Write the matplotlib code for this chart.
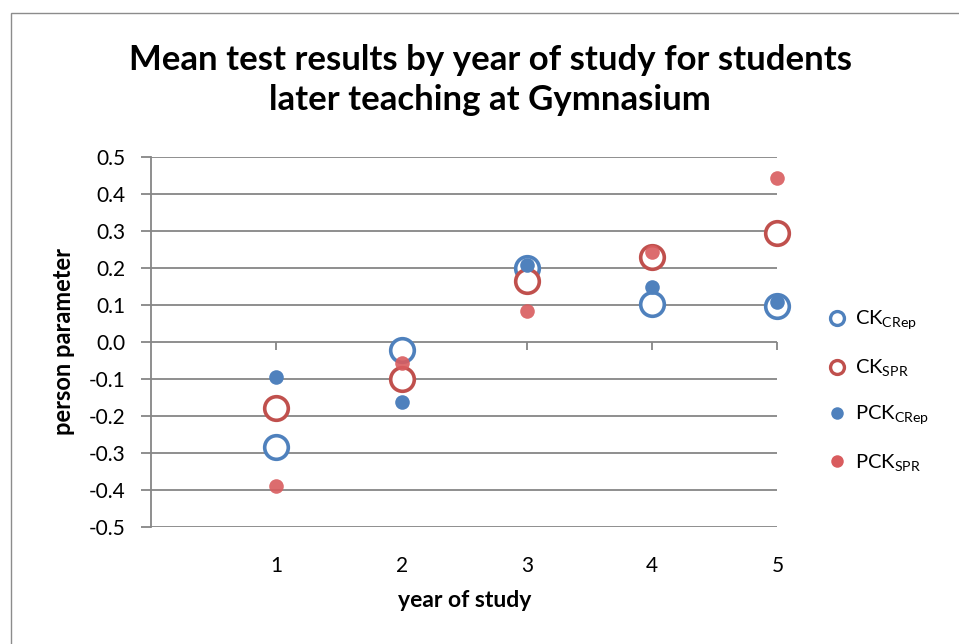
import matplotlib
matplotlib.use("Agg")
from matplotlib import pyplot as plt
from matplotlib.lines import Line2D

plt.rcParams['font.family'] = ['Lato', 'DejaVu Sans']
plt.rcParams['mathtext.fontset'] = 'custom'
plt.rcParams['mathtext.rm'] = 'Lato'

years = [1, 2, 3, 4, 5]
ck_crep = [-0.285, -0.022, 0.200, 0.101, 0.097]
ck_spr = [-0.180, -0.102, 0.165, 0.228, 0.295]
pck_crep = [-0.096, -0.164, 0.207, 0.147, 0.107]
pck_spr = [-0.390, -0.057, 0.083, 0.243, 0.443]

BLUE = '#4F81BD'
RED = '#C0504D'
PINK = '#D95C5E'
GRID = '#868686'

fig = plt.figure(figsize=(9.59, 6.44), dpi=100)
ax = fig.add_axes([0.1575, 0.1822, 0.6532, 0.5745])

# chart frame
fig.add_artist(plt.Rectangle((10.5 / 959, -0.1), 1.2, 1 - 12.5 / 644 + 0.1,
                             transform=fig.transFigure, fill=False,
                             edgecolor='#8C8C8C', linewidth=1.0))

ax.plot(years, ck_crep, ls='none', marker='o', ms=17, mfc='white',
        mec=BLUE, mew=2.6, zorder=3, clip_on=False)
ax.plot(years, ck_spr, ls='none', marker='o', ms=17, mfc='white',
        mec=RED, mew=2.6, zorder=3, clip_on=False)
ax.plot(years, pck_crep, ls='none', marker='o', ms=10.5, mfc=BLUE,
        mec='none', zorder=4, clip_on=False)
ax.plot(years, pck_spr, ls='none', marker='o', ms=10.5, mfc=PINK,
        mec='none', alpha=0.9, zorder=4, clip_on=False)

ax.set_xlim(0, 5)
ax.set_ylim(-0.5, 0.5)
ax.set_yticks([i / 10 for i in range(-5, 6)])
ax.set_yticklabels(['%.1f' % (i / 10) for i in range(-5, 6)])
ax.set_xticks(years)
ax.grid(axis='y', color=GRID, linewidth=1.3)
ax.set_axisbelow(True)

for s in ['top', 'right', 'bottom']:
    ax.spines[s].set_visible(False)
ax.spines['left'].set_color(GRID)
ax.spines['left'].set_linewidth(1.3)
ax.tick_params(axis='y', direction='out', length=7.2, width=1.3, color=GRID,
               labelsize=15, pad=11)
ax.tick_params(axis='x', length=0, labelsize=15, pad=21)

# horizontal axis crossing at zero, tick marks only
zero_ax = ax.secondary_xaxis(0.5)
zero_ax.set_xticks(years)
zero_ax.xaxis.set_ticks_position('bottom')
zero_ax.tick_params(direction='out', length=6, width=1.3, color=GRID,
                    labelbottom=False, labeltop=False)
zero_ax.spines['bottom'].set_color(GRID)
zero_ax.spines['bottom'].set_linewidth(1.3)
zero_ax.spines['top'].set_visible(False)

ax.set_xlabel('year of study', fontsize=16.5, fontweight='bold', labelpad=10)
ax.set_ylabel('person parameter', fontsize=17, fontweight='bold', labelpad=10)

fig.text(0.511, 0.876, 'Mean test results by year of study for students\n'
         'later teaching at Gymnasium', ha='center', va='center',
         fontsize=25, fontweight='bold', linespacing=1.3)

handles = [
    Line2D([], [], ls='none', marker='o', ms=10, mfc='white', mec=BLUE, mew=2.4),
    Line2D([], [], ls='none', marker='o', ms=10, mfc='white', mec=RED, mew=2.4),
    Line2D([], [], ls='none', marker='o', ms=9, mfc=BLUE, mec='none'),
    Line2D([], [], ls='none', marker='o', ms=9, mfc=PINK, mec='none'),
]
labels = [r'CK$_{\mathregular{CRep}}$', r'CK$_{\mathregular{SPR}}$',
          r'PCK$_{\mathregular{CRep}}$', r'PCK$_{\mathregular{SPR}}$']
fig.legend(handles, labels, loc='center left', bbox_to_anchor=(0.845, 0.392),
           frameon=False, fontsize=14.5, handlelength=0.8, handletextpad=0.5,
           labelspacing=1.25)

fig.savefig('out.png', dpi=100)
